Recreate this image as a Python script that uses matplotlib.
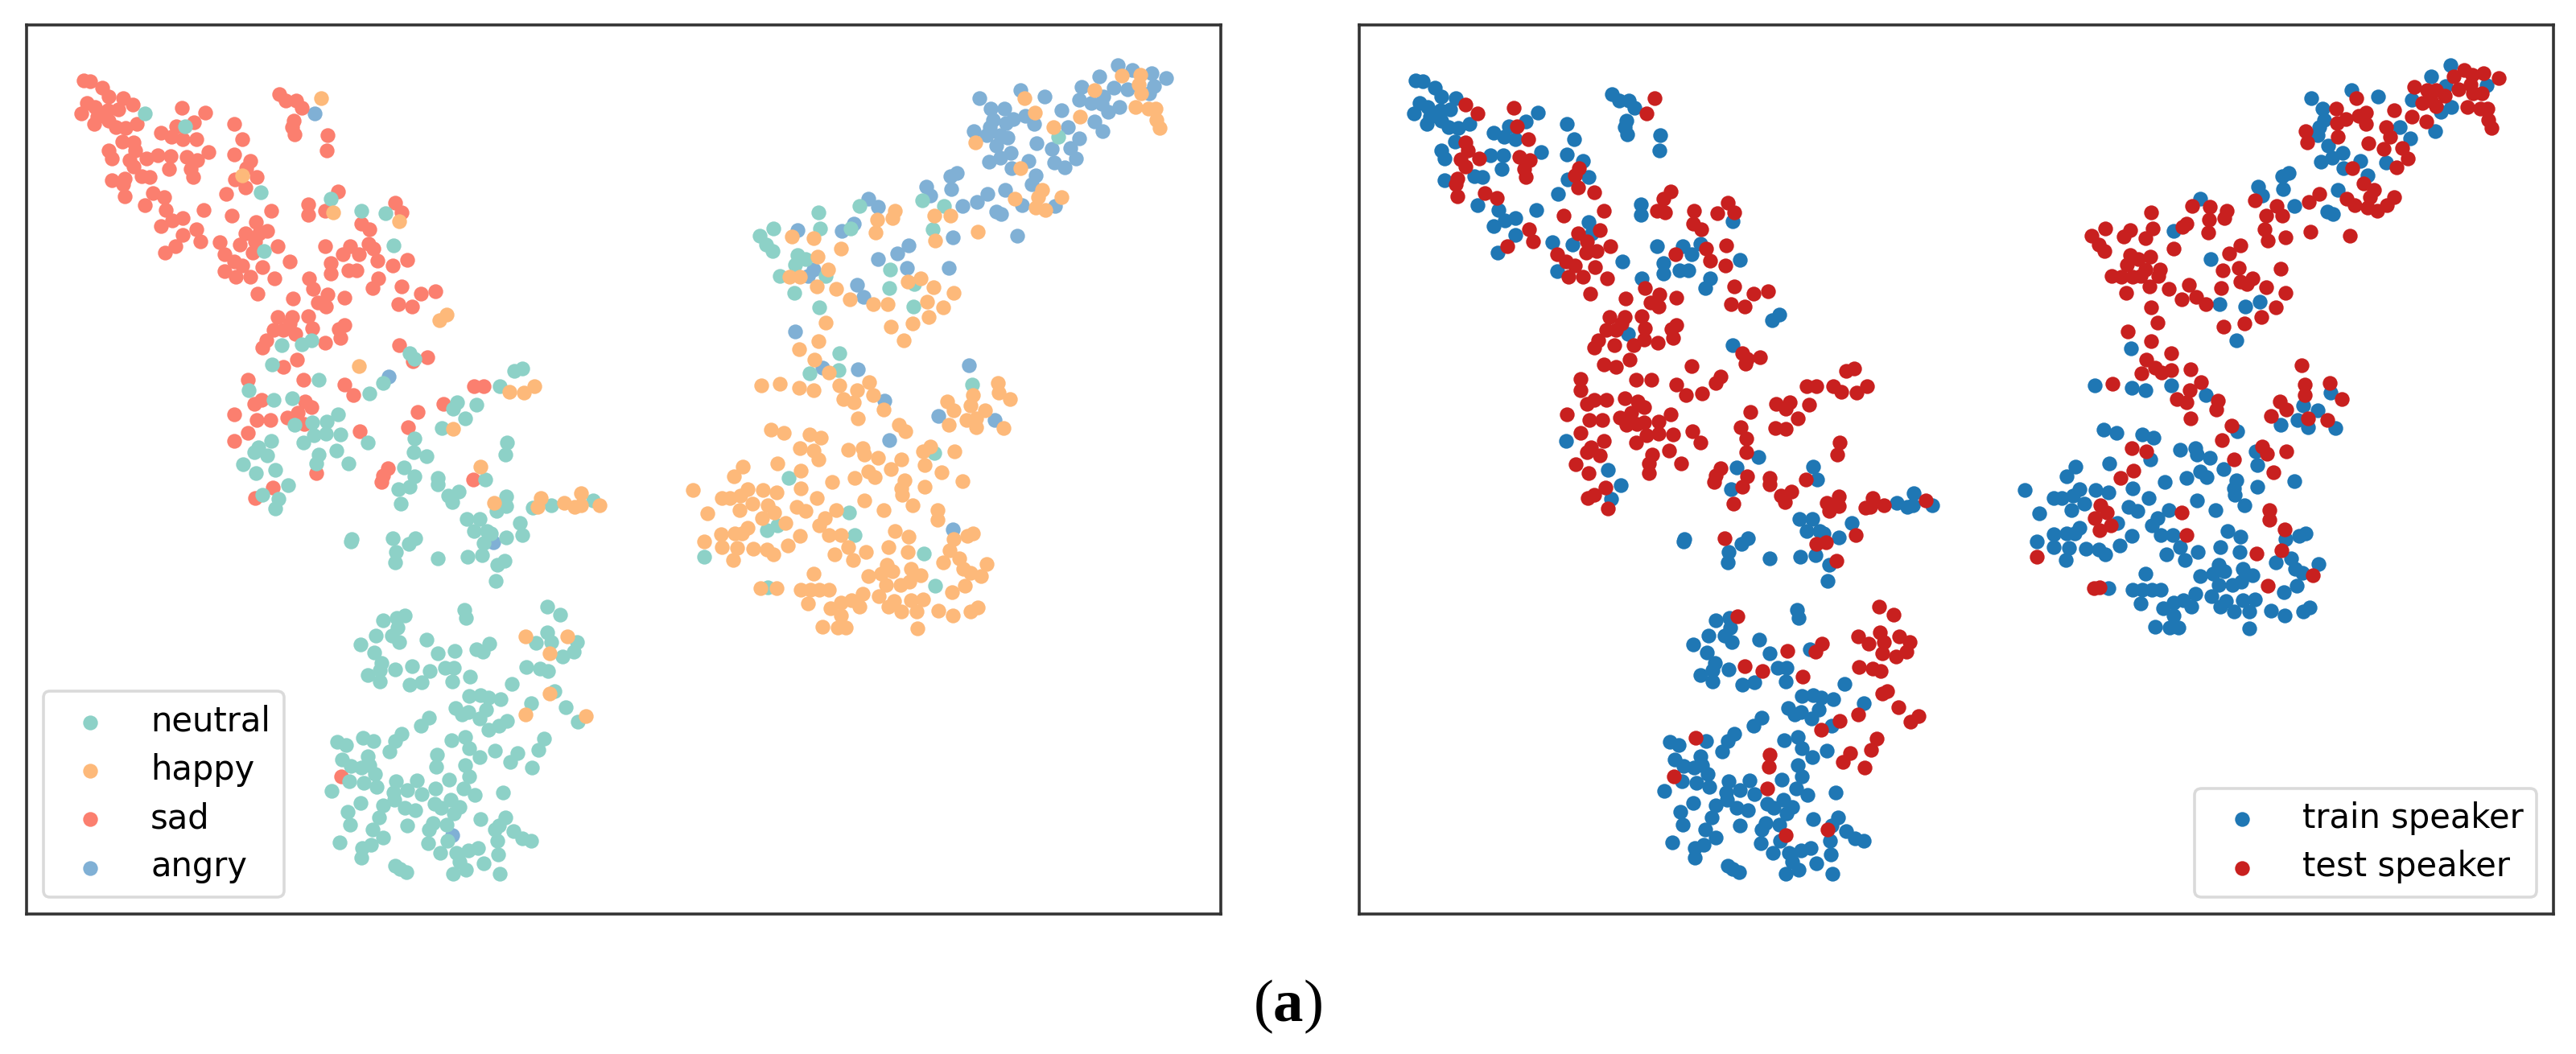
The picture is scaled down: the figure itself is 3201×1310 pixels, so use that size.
import numpy as np
import matplotlib
matplotlib.use('Agg')
import matplotlib.pyplot as plt

# points, one list per crop of it
# crop a: upper left, crop b: lower left, crop c: right side of each panel
sad_a = [(203,237),(220,241),(249,260),(264,285),(300,290),(211,303),(232,315),(323,310),(197,335),(237,345),(263,325),(288,322),(230,366),(265,357),(283,375),(305,378),(333,367),(442,319),(499,332),(472,360),(430,372),(392,391),(418,405),(445,412),(478,410),(298,418),(325,420),(329,445),(264,445),(273,468),(315,472),(356,468),(385,458),(416,460),(455,463),(480,472),(507,450),(325,492),(412,498),(465,500),(470,522),(345,520),(365,522),(272,533),(303,527),(300,545),(303,580),(372,570),(400,583),(353,607),(403,620),(420,652),(445,645),(392,668),(496,620),(478,678),(445,693),(489,712),(427,728),(402,747),
(570,365),(589,412),(571,456),(610,475),(600,497),(572,530),(625,523),(598,553),(550,573),(564,637),(661,622),(624,655),(651,682),(597,690),(632,690),(622,712),(585,722),(616,745),(677,726),(535,715),(547,750),(570,772),(590,783),(547,800),(574,818),(610,817),(638,790),(669,821),(706,772),(628,868),
(681,277),(695,298),(722,298),(735,318),(716,357),(712,375),(718,396),(798,400),(795,445),(823,565),(751,603),(751,635),(791,622),(880,660),(899,678),(963,598),(978,628),(791,726),(853,726),(835,750),(875,750),(897,720),(910,733),(919,770),(805,777),(805,808),(849,798),(868,798),(957,785),(992,768),(753,822),(762,853),(921,823),(907,851),(978,846),(1025,868),(1060,861),(971,899),(1004,906),(714,881),(797,869),(775,893),(793,905),(838,879),
(676,936),(712,936),(751,933),(667,974),(690,974),(705,955),(720,985),(761,970),(838,960),(825,972),(829,998),(792,1012),(648,1006),(638,1026),(723,1063),(690,1083),(973,1020),(1040,1054),(1005,1068),(603,1122),(739,1121),(838,1135),(860,1167),(1155,1140),(1178,1141),(637,1180),(620,1192),(743,1186),(759,1202),(726,1218),(700,1233),(571,1224),(625,1241),(658,1241),(741,1253),(1079,1193),(1018,1217),(993,1261),(876,1274),(603,1279),(570,1303),(945,1383),(932,1405),(929,1424),(770,1396),(1153,1417),(665,1441),(622,1470)]
neutral_a = [(352,335),(450,373),(636,567),(805,587),(880,622),(938,630),(959,724),(642,741),(998,1044),(1010,1060),(686,1020),(735,1018),(758,1005),(662,1077),(777,1122),(605,1153),(667,1182),(711,1175),(900,1161),(933,1130),(1272,1089),(1253,1096),(1218,1140),(1113,1188),(1103,1208),(1160,1195),(1132,1236),(1077,1265),(823,1224),(795,1244),(760,1248),(717,1255),(765,1285),(793,1280),(830,1282),(739,1307),(895,1307),(661,1303),(630,1322),(620,1335),(651,1346),(592,1370),(624,1398),(670,1387),(777,1342),(771,1368),(820,1331),(849,1369),(1009,1294),(1008,1336),(1038,1348),(984,1381),(1009,1407),(1066,1412),(1066,1430),(1181,1415),(1235,1307),(1230,1342),(702,1432),(638,1461),(679,1472),(671,1502),(970,1444),(998,1438),(977,1488),(1117,1452),(1092,1463),(1102,1482),(1233,1466),(1233,1495),(1210,1508),(1298,1500),(1342,1492),(1445,1479)]
happy_a = [(783,291),(590,519),(811,627),(973,654),(1087,930),(1071,945),(875,1082),(1240,1157),(1275,1160),(1302,1140),(1103,1266),(1171,1378),(1204,1485),(1317,1470),(1310,1497),(1374,1485),(1416,1457),(1400,1498),(1415,1493),(1460,1493)]
angry_a = [(766,335),(946,1113)]

neutral_b = [(1137,100),(1168,100),(1155,132),(1185,132),(1266,110),(1272,143),(1233,150),(1195,140),(1178,165),(1175,198),(1139,203),(1066,208),(1228,215),(1212,226),(1207,270),(857,155),(855,162),(957,153),(1012,153),(995,168),(964,190),(962,218),
(1131,348),(1134,370),(1332,340),(1365,362),(1333,410),(1343,437),(1306,440),(1405,438),(1397,463),(1371,478),(1281,505),(1316,510),(1335,516),(933,378),(967,372),(985,365),(968,397),(915,420),(955,420),(973,437),(879,443),(912,465),(1039,430),(1066,467),(1107,461),(1161,457),(1176,463),(1191,441),(930,495),(925,515),(895,527),(925,546),(963,513),(1004,504),(1046,516),(1083,507),(1105,507),(1144,533),(1102,546),(997,554),(1027,548),(1247,553),(1351,572),
(1143,585),(1170,582),(1190,590),(1220,593),(1110,618),(1125,637),(1140,630),(1183,622),(1168,648),(1294,604),(1378,616),(1408,655),(1235,653),(1216,667),(1190,678),(1045,645),(1026,667),(978,688),(962,708),(948,738),(883,700),(910,708),(822,711),(842,720),(1100,706),(1133,698),(1143,728),(1205,736),(1169,754),(1324,703),(1312,732),(1261,741),(1243,767),(1296,781),(1065,746),(1062,780),(1132,774),(1142,806),(896,750),(833,760),(855,777),(880,782),(900,775),(913,800),(885,823),(918,835),(850,820),(807,845),(964,820),(1015,816),(958,850),(992,843),(1027,855),(1060,838),(1093,814),(1129,838),(1157,857),(1225,850),
(878,878),(933,885),(960,870),(985,892),(1012,898),(1058,880),(1075,893),(1098,870),(1120,890),(1105,908),(846,903),(923,918),(852,938),(1170,923),(1230,918),(1215,940),(1205,952),(992,940),(1055,935),(1045,952),(1088,938),(908,951),(932,974),(1250,955),(1272,975),(1293,982),(828,988),(903,993),(882,1002),(881,1030),(1043,990),(1090,983),(1212,983),(1073,1015),(1112,1015),(1140,1008),(1165,1002),(1214,1020),(1120,1040),(1178,1044),(963,1052),(975,1060),(990,1068),(1103,1072),(1135,1063),(1218,1073)]
happy_b = [(1279,422),(1381,421),(1338,469),(1339,578),(1280,635),(1427,641)]
sad_b = [(832,806)]
angry_b = [(1201,163),(1102,968)]

angry_c = [(1155,158),(1190,170),(1237,178),(1273,190),(1110,186),(917,220),(817,239),(977,235),(1067,212),(1243,210),(1177,218),(1145,213),(1230,228),(1120,235),(1060,243),(1090,250),(1115,252),(1130,272),(1158,260),(845,264),(878,264),(1018,269),(850,292),(900,290),(930,283),(882,300),(950,302),(803,319),(843,310),(835,330),(868,330),(885,335),(1033,310),(1097,296),(1118,319),(957,349),(1060,338),(858,355),(893,372),(868,385),(840,393),(994,362),(1038,360),(1053,387),(937,392),(1000,395),(1025,407),(895,409),(955,427),(945,449),(763,422),(747,430),(748,460),(688,455),(697,476),(881,462),(837,473),(812,492),(776,501),(922,499),(1002,501),(858,515),(870,522),(547,485),(571,503),(512,545),(482,562),(375,560),(753,579),(910,575),(644,598),(617,617),(571,632),(640,653),(742,653),(414,656),(400,672),(519,693),(535,723),(369,808),(792,890),(435,896),(522,899),(587,977),(718,1013),(855,1023),(598,1072),(752,1289)]
neutral_c = [(1010,333),(678,488),(731,502),(526,502),(426,518),(315,556),(430,556),(503,556),(703,559),(282,574),(298,596),(313,612),(375,622),(393,632),(368,645),(331,673),(443,672),(600,657),(658,692),(597,702),(367,714),(656,747),(427,749),(476,860),(475,901),(403,910),(800,937),(708,1104),(352,1165),(500,1248),(326,1279),(300,1292),(513,1304),(682,1348),(147,1357),(710,1426),(302,1430)]
happy_c = [(1165,185),(1210,182),(1205,205),(1098,220),(1212,227),(927,239),(952,275),(1197,261),(1228,265),(1247,265),(1062,284),(998,309),(1248,293),(1257,312),(807,347),(917,410),(970,463),(960,480),(904,484),(1018,481),(955,505),(978,512),(612,513),(605,532),(707,526),(747,526),(568,536),(565,566),(360,576),(413,580),(814,564),(710,586),(480,606),(424,625),(448,657),(355,675),(380,675),(422,697),(469,703),(643,686),(675,679),(706,699),(754,714),(501,729),(559,740),(594,740),(690,735),(729,748),(694,773),(654,788),(602,796),(442,786),(633,829),(426,831),(379,850),(415,876),(450,908),(287,938),(332,934),(379,945),(414,950),(477,938),(548,931),(520,950),(558,963),(487,972),(512,980),(584,997),(522,1020),(862,932),(864,957),(891,972),(801,963),(796,987),(738,978),(755,1000),(832,1000),(785,1023),(810,1020),(742,1034),(810,1040),(876,1043),(622,1035),(637,1050),
(310,1047),(342,1055),(403,1058),(432,1067),(380,1092),(414,1098),(426,1120),(498,1096),(534,1092),(538,1108),(571,1116),(697,1087),(680,1100),(757,1100),(627,1120),(685,1133),(601,1142),(241,1136),(220,1160),(325,1129),(382,1147),(547,1148),(562,1163),(513,1164),(459,1175),(725,1150),(776,1173),(635,1170),(119,1193),(253,1192),(291,1193),(323,1200),(382,1190),(190,1214),(210,1213),(236,1208),(264,1226),(302,1231),(421,1213),(628,1190),(630,1205),(684,1185),(538,1219),(655,1230),(233,1242),(154,1250),(318,1249),(289,1262),(372,1235),(393,1245),(469,1243),(441,1262),(428,1280),(584,1242),(715,1242),(716,1267),(345,1274),(252,1286),(222,1300),(240,1300),(188,1301),(147,1320),(190,1333),(228,1335),(380,1306),(450,1303),(480,1303),(612,1293),(644,1308),(802,1299),(787,1305),(755,1314),(267,1337),(300,1338),(315,1350),(351,1329),(497,1332),(217,1364),(596,1332),(540,1345),(643,1345),(745,1341),(465,1351),(510,1365),(768,1361),(730,1371),(835,1373),(778,1385),(650,1385),(591,1376),(605,1392),(413,1398),(795,1396),(822,1403),(547,1403),(578,1397),(675,1402),(590,1424),(625,1424),(647,1418),(782,1427),(285,1432),(323,1432),(382,1436),(405,1436),(428,1436),(450,1436),(750,1443),(533,1447),(572,1452),(505,1462),(480,1468),(650,1463),(680,1460),(610,1465),(400,1470),(455,1482),(525,1478),(595,1478),(627,1490),(665,1490),(718,1487),(813,1480),(795,1490),(752,1499),(480,1500),(435,1526),(472,1529),(492,1529),(666,1531)]

# right panel, same three areas
train_a = [(155,237),(172,241),(202,260),(217,285),(253,290),(164,303),(185,315),(150,335),(190,345),(215,325),(240,322),(182,366),(218,357),(236,375),(258,378),(286,367),(452,332),(424,358),(383,372),(345,391),(370,405),(397,412),(250,418),(217,445),(226,468),(338,458),(369,458),(460,450),(365,498),(297,520),(318,522),(225,533),(524,365),(541,412),(524,456),(563,475),(525,530),(577,523),(502,573),(306,607),(356,620),(373,652),(398,645),(345,668),(449,620),(398,693),(355,747),(488,715),(538,722),(577,655),(585,690),(500,800),(659,772),(633,277),(650,298),(675,298),(688,318),(669,357),(665,375),(670,396),(751,400),(748,445),(703,603),(704,635),(927,654),(743,726),(806,726),(849,720),(828,750),(758,777),(758,808),(798,798),(820,798),(945,768),(706,822),(873,823),(860,851),(1040,930),(1023,945),(673,985),(927,1020),(522,1303),(990,1349),(936,1381),(1124,1377),(1132,1416),(623,1387),(654,1432),(632,1472),(923,1444),(1326,1485),(1368,1457),(1352,1498),(1367,1493),(1413,1493)]
test_a = [(276,310),(305,335),(394,319),(402,373),(430,411),(276,420),(282,445),(264,470),(309,468),(276,492),(408,463),(433,472),(420,498),(423,522),(256,527),(253,545),(256,580),(323,570),(352,584),(553,497),(543,518),(551,553),(589,567),(516,637),(614,622),(603,680),(550,690),(572,712),(570,745),(595,742),(630,726),(431,678),(441,712),(379,728),(499,750),(522,772),(543,783),(527,818),(563,817),(591,790),(622,821),(581,868),(736,291),(718,335),(776,565),(758,587),(742,622),(763,627),(833,622),(832,660),(851,678),(916,598),(931,628),(890,630),(912,724),(862,733),(787,750),(872,770),(910,785),(714,851),(749,869),(727,893),(746,905),(790,879),(666,881),(931,846),(978,868),(1013,861),(924,899),(956,906),(628,936),(664,936),(705,933),(620,974),(643,974),(656,955),(714,970),(711,1003),(686,1020),(790,960),(778,972),(782,998),(745,1012),(600,1006),(590,1026),(638,1020),(676,1063),(614,1077),(643,1083),(950,1044),(962,1060),(958,1073),(993,1054),(827,1082),(898,1113),(886,1130),(556,1120),(557,1153),(692,1122),(730,1122),(790,1135),(813,1167),(852,1161),(1204,1096),(1224,1089),(1107,1140),(1131,1141),(1172,1140),(1192,1157),(1228,1160),(1255,1140),
(590,1180),(572,1192),(620,1182),(664,1175),(696,1186),(711,1202),(680,1218),(652,1233),(524,1224),(578,1241),(610,1241),(693,1253),(668,1255),(712,1248),(747,1244),(776,1224),(718,1285),(746,1280),(783,1282),(692,1307),(556,1279),(613,1303),(582,1322),(572,1335),(604,1346),(544,1370),(576,1398),(731,1342),(724,1368),(723,1396),(773,1331),(802,1369),(829,1274),(848,1307),(1032,1193),(1066,1188),(1056,1208),(1113,1195),(1085,1236),(1030,1265),(1056,1266),(970,1217),(946,1261),(961,1294),(960,1336),(898,1383),(885,1405),(882,1424),(962,1407),(950,1438),(1018,1412),(1018,1430),(1106,1417),(1187,1307),(1182,1342),(618,1441),(590,1461),(575,1470),(623,1502),(930,1488),(1070,1452),(1045,1463),(1055,1482),(1157,1485),(1186,1466),(1185,1495),(1162,1508),(1268,1470),(1262,1497),(1250,1500),(1295,1492),(1397,1479)]

train_b = [(1090,100),(1121,100),(1107,132),(1138,132),(1148,140),(1218,110),(1185,150),(1128,198),(1092,203),(1018,208),(1162,226),(1159,270),(810,155),(808,162),(964,153),(948,168),(917,190),(915,218),
(1084,348),(1087,370),(886,378),(920,372),(921,397),(868,420),(908,420),(926,437),(832,443),(865,465),(991,430),(1018,467),(1116,457),(883,495),(878,515),(848,527),(878,546),(917,513),(1036,507),(1058,507),(950,554),(980,548),(1056,546),(1200,553),(1096,585),(1123,582),(1143,590),(1173,593),(1063,618),(1078,637),(1093,630),(1136,622),(1120,648),(1247,604),(1168,667),
(998,645),(979,667),(931,688),(915,708),(901,738),(863,708),(775,711),(795,720),(1052,706),(1086,698),(1096,728),(1157,736),(1122,754),(1085,774),(1095,806),(849,750),(786,760),(808,777),(833,782),(853,775),(866,800),(838,823),(871,835),(803,820),(760,845),(917,820),(968,816),(911,850),(945,843),(980,855),(1046,814),(1082,838),(1110,857),(1178,850),
(831,878),(886,885),(913,870),(937,892),(965,898),(1011,880),(1028,893),(1051,870),(1073,890),(1058,908),(799,903),(876,918),(805,938),(1123,923),(1183,918),(1168,940),(945,940),(1008,935),(998,952),(1041,938),(860,951),(885,974),(1203,955),(1225,975),(1246,982),(781,988),(856,993),(835,1002),(834,1030),(996,990),(1043,983),(1165,983),(1025,1015),(1065,1015),(1093,1008),(1118,1002),(1167,1020),(1073,1040),(1131,1044),(916,1052),(928,1060),(943,1068),(1056,1072),(1088,1063),(1171,1073)]
test_b = [(908,153),(1130,168),(1154,163),(1179,215),(1226,143),(938,366),(1284,340),(1319,362),(1232,421),(1259,441),(1286,410),(1296,437),(1291,469),(1333,421),(1358,438),(1350,463),(1324,478),(1234,505),(1269,510),(1288,516),(1060,461),(1144,441),(1128,463),(957,504),(999,516),(1097,533),(1292,578),(1304,572),(1330,616),(1233,635),(1187,653),(1143,677),(1380,641),(1360,655),(836,699),(1017,746),(1015,780),(1277,703),(1265,732),(1214,741),(1196,767),(1249,781),(784,806),(1012,838),(1158,951),(1056,968)]

train_c = [(1264,158),(1218,186),(1024,220),(926,239),(1087,235),(1253,210),(1353,208),(1171,243),(1267,260),(1240,272),(953,264),(957,292),(945,310),(940,330),(1141,310),(1226,319),(1167,338),(966,355),(1002,372),(977,385),(948,393),(1108,395),(1045,392),(1004,409),(1063,427),(871,422),(855,430),(856,460),(796,455),(805,476),(989,462),(884,501),(965,515),(978,522),(655,485),(590,562),(680,632),(702,741),(765,747),(799,735),(742,829),(487,849),(397,938),(488,945),(522,950),(585,938),(668,963),(905,987),(940,1000),(973,957),(892,1023),(850,1034),(917,1040),(984,1043),(745,1050),(419,1047),(451,1055),(513,1058),(541,1067),(606,1096),(642,1092),(647,1108),(679,1116),(790,1100),(533,1120),(793,1133),(711,1142),(350,1136),(329,1160),(434,1129),(655,1148),(670,1163),(622,1164),(568,1175),(884,1173),(743,1170),(228,1193),(361,1192),(400,1193),(432,1200),(490,1190),(298,1214),(318,1213),(345,1208),(372,1226),(530,1213),(736,1190),(738,1205),(793,1185),(647,1219),(763,1230),(342,1242),(263,1250),(480,1235),(501,1245),(578,1243),(550,1262),(537,1280),(692,1242),(453,1274),(360,1286),(330,1300),(348,1300),(297,1301),(256,1320),(298,1333),(336,1335),(488,1306),(558,1303),(588,1303),(721,1293),(752,1308),(911,1299),(896,1305),(863,1314),(376,1337),(408,1338),(423,1350),(459,1329),(605,1332),(327,1364),(704,1332),(649,1345),(751,1345),(573,1351),(618,1365),(876,1361),(838,1371),(943,1373),(886,1385),(759,1385),(700,1376),(713,1392),(521,1398),(904,1396),(655,1403),(686,1397),(783,1402),(699,1424),(734,1424),(755,1418),(890,1427),(432,1432),(490,1436),(513,1436),(537,1436),(558,1436),(859,1443),(642,1447),(682,1452),(614,1462),(590,1468),(758,1463),(788,1460),(718,1465),(509,1470),(565,1482),(633,1478),(703,1478),(736,1490),(774,1490),(827,1487),(922,1480),(905,1490),(861,1499),(590,1500),(544,1526),(581,1529),(601,1529),(775,1531)]
test_c = [(1273,186),(1298,170),(1345,178),(1382,190),(1318,182),(1313,205),(1176,212),(1283,218),(1320,227),(1340,227),(1035,239),(986,265),(1207,220),(1228,220),(1250,234),(1196,250),(1217,245),(1228,258),(1127,269),(1305,261),(1336,265),(1355,265),(1170,284),(1058,275),(1040,283),(1010,290),(988,300),(1058,302),(1107,309),(1205,296),(1356,293),(1365,312),(911,319),(916,347),(990,333),(1117,333),(1065,349),(1102,362),(1146,360),(1161,387),(1133,407),(1025,410),(1053,447),(1078,463),(1068,480),(945,473),(919,492),(1127,481),(1012,484),(1030,500),(1063,505),(1085,513),(1110,500),(787,488),(840,502),(815,526),(855,526),(635,501),(679,503),(720,513),(713,532),(535,518),(677,536),(675,566),(622,545),(611,553),(539,556),(424,556),(485,560),(469,576),(522,580),(811,559),(819,586),(923,564),(862,579),(1019,575),(390,574),(407,596),(422,612),(589,606),(752,598),(726,617),(484,622),(503,632),(533,625),(477,645),(557,657),(552,672),(522,657),(709,658),(748,653),(851,654),(440,673),(463,675),(490,675),(510,672),(532,697),(578,703),(628,693),(752,686),(783,679),(768,692),(706,702),(815,699),(863,714),(475,714),(610,729),(645,723),(668,740),(838,748),(536,749),(803,773),(763,788),(711,796),(550,786),(478,808),(535,831),(585,860),(523,876),(545,895),(560,908),(585,901),(631,899),(512,910),(441,934),(657,931),(629,950),(597,972),(621,980),(697,977),(693,998),(631,1020),(848,978),(865,997),(827,1014),(918,1020),(965,1023),(901,890),(909,937),(910,963),(971,932),(999,972),(731,1037),(707,1072),(806,1087),(817,1106),(865,1100),(736,1120),(833,1150),(489,1092),(523,1100),(491,1147),(460,1165),(411,1231),(427,1249),(398,1262),(437,1279),(409,1292),(610,1248),(622,1304),(823,1242),(824,1267),(860,1289),(853,1341),(791,1348),(257,1357),(820,1426),(930,1402),(395,1432),(410,1430)]

emotion_labels = ['neutral', 'happy', 'sad', 'angry']
emotion_colors = ['#8dd1c7', '#fdb97a', '#fb7f6f', '#80b0d5']
emotion_order = [3, 4, 2, 1]
speaker_labels = ['train speaker', 'test speaker']
speaker_colors = ['#1f77b4', '#c8201f']

W, H = 3201, 1310
PANEL_W, TOP, BOTTOM = 1484, 30.5, 1136
LEFT1, LEFT2 = 33, 1689
MARKER = 175
LEGEND_SIZE = 30


def to_px(points, x0, y0, ky):
    # crops were read at 1.96x across, ky down
    pts = np.array(points, dtype=float).reshape(-1, 2)
    return x0 + pts[:, 0] / 1.96, y0 + pts[:, 1] / ky


def gather(a, b, c, x_a, x_c):
    parts = [to_px(a, x_a, 0, 2.376), to_px(b, x_a, 600, 2.208), to_px(c, x_c, 0, 1.96)]
    return np.concatenate([p[0] for p in parts]), np.concatenate([p[1] for p in parts])


def make_axes(fig, left):
    ax = fig.add_axes([left / W, 1 - BOTTOM / H, PANEL_W / W, (BOTTOM - TOP) / H])
    ax.set_xlim(left, left + PANEL_W)
    ax.set_ylim(BOTTOM, TOP)
    ax.set_xticks([])
    ax.set_yticks([])
    for s in ax.spines.values():
        s.set_color('#333333')
        s.set_linewidth(2.6)
    return ax


plt.rcParams['mathtext.fontset'] = 'custom'
plt.rcParams['mathtext.bf'] = 'Liberation Serif:bold'
plt.rcParams['mathtext.rm'] = 'Liberation Serif'

fig = plt.figure(figsize=(W / 100, H / 100), dpi=100)

ax1 = make_axes(fig, LEFT1)
groups = [
    gather(neutral_a, neutral_b, neutral_c, 0, 800),
    gather(happy_a, happy_b, happy_c, 0, 800),
    gather(sad_a, sad_b, [], 0, 800),
    gather(angry_a, angry_b, angry_c, 0, 800),
]
for (x, y), label, color, z in zip(groups, emotion_labels, emotion_colors, emotion_order):
    ax1.scatter(x, y, s=MARKER, c=color, linewidths=0, label=label, zorder=z)
leg1 = ax1.legend(loc='lower left', fontsize=LEGEND_SIZE, edgecolor='0.82', labelspacing=0.44)
leg1.get_frame().set_linewidth(2.6)

ax2 = make_axes(fig, LEFT2)
groups2 = [
    gather(train_a, train_b, train_c, 1680, 2400),
    gather(test_a, test_b, test_c, 1680, 2400),
]
for (x, y), label, color in zip(groups2, speaker_labels, speaker_colors):
    ax2.scatter(x, y, s=MARKER, c=color, linewidths=0, label=label)
leg2 = ax2.legend(loc='lower right', fontsize=LEGEND_SIZE, edgecolor='0.82', labelspacing=0.44)
leg2.get_frame().set_linewidth(2.6)

fig.text(1600 / W, 1 - 1251 / H, r'($\mathbf{a}$)', family='Liberation Serif',
         fontsize=54, ha='center', va='center', color='black')

fig.savefig('out.png', dpi=100, facecolor='white')
